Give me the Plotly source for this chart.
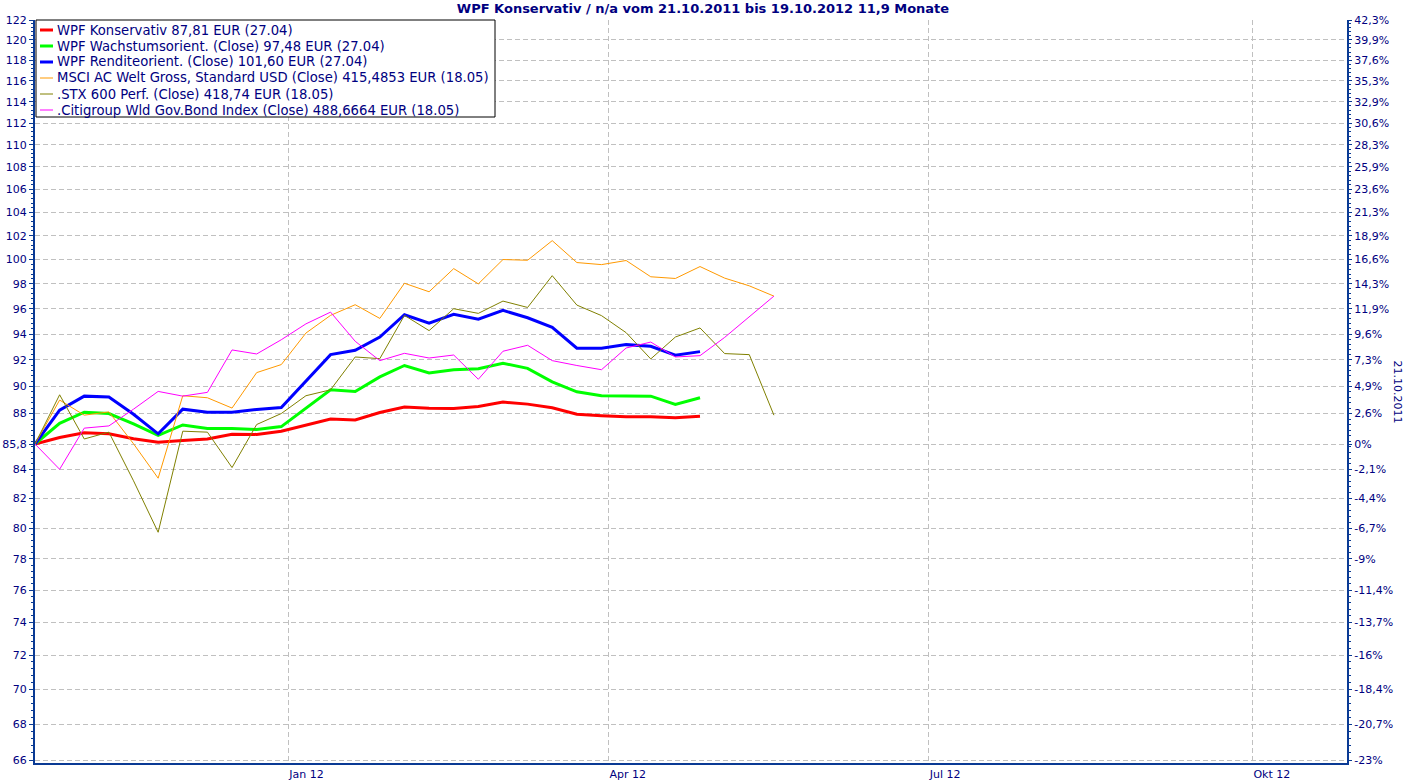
import plotly.graph_objects as go
import numpy as np

# ---------------- data ----------------
dates = ["2011-10-21", "2011-10-28", "2011-11-04", "2011-11-11", "2011-11-18", "2011-11-25",
         "2011-12-02", "2011-12-09", "2011-12-16", "2011-12-23", "2011-12-30", "2012-01-06",
         "2012-01-13", "2012-01-20", "2012-01-27", "2012-02-03", "2012-02-10", "2012-02-17",
         "2012-02-24", "2012-03-02", "2012-03-09", "2012-03-16", "2012-03-23", "2012-03-30",
         "2012-04-06", "2012-04-13", "2012-04-20", "2012-04-27", "2012-05-04", "2012-05-11",
         "2012-05-18"]

wpf_konservativ = [85.8, 86.27, 86.6, 86.53, 86.18, 85.92, 86.06, 86.16, 86.5, 86.49, 86.72, 87.17,
                   87.6, 87.53, 88.07, 88.47, 88.38, 88.37, 88.52, 88.84, 88.69, 88.42, 87.95, 87.84,
                   87.76, 87.76, 87.69, 87.81]
wpf_wachstum = [85.8, 87.29, 88.1, 88.0, 87.24, 86.42, 87.17, 86.91, 86.91, 86.84, 87.05, 88.42,
                89.75, 89.63, 90.72, 91.58, 91.01, 91.26, 91.33, 91.75, 91.36, 90.35, 89.6, 89.31,
                89.28, 89.28, 88.67, 89.16]
wpf_rendite = [85.8, 88.25, 89.28, 89.21, 87.95, 86.53, 88.32, 88.1, 88.1, 88.3, 88.44, 90.42,
               92.41, 92.74, 93.77, 95.52, 94.85, 95.55, 95.17, 95.87, 95.28, 94.53, 92.9, 92.9,
               93.18, 93.05, 92.36, 92.64]
msci = [85.8, 88.99, 87.88, 88.12, 85.82, 83.4, 89.31, 89.16, 88.4, 91.04, 91.65, 94.08, 95.47,
        96.32, 95.23, 98.05, 97.36, 99.25, 98.0, 100.0, 99.94, 101.58, 99.75, 99.58, 99.92, 98.58,
        98.44, 99.42, 98.47, 97.84, 97.01]
stx600 = [85.8, 89.38, 86.16, 86.65, 83.22, 79.74, 86.72, 86.65, 84.14, 87.2, 88.0, 89.31, 89.75,
          92.23, 92.1, 95.47, 94.27, 96.0, 95.63, 96.61, 96.1, 98.67, 96.29, 95.45, 94.11, 92.08,
          93.77, 94.48, 92.49, 92.41, 87.88]
citi = [85.8, 84.02, 86.94, 87.1, 88.32, 89.63, 89.28, 89.56, 92.77, 92.46, 93.56, 94.8, 95.73,
        93.44, 91.95, 92.51, 92.15, 92.38, 90.54, 92.67, 93.13, 91.95, 91.58, 91.26, 92.92, 93.38,
        92.23, 92.33, 93.74, 95.33, 97.01]

series_names = ["WPF Konservativ 87,81 EUR (27.04)",
                "WPF Wachstumsorient. (Close) 97,48 EUR (27.04)",
                "WPF Renditeorient. (Close) 101,60 EUR (27.04)",
                "MSCI AC Welt Gross, Standard USD (Close) 415,4853 EUR (18.05)",
                ".STX 600 Perf. (Close) 418,74 EUR (18.05)",
                ".Citigroup Wld Gov.Bond Index (Close) 488,6664 EUR (18.05)"]

y_tickvals = [66, 68, 70, 72, 74, 76, 78, 80, 82, 84, 85.8, 88, 90, 92, 94, 96, 98, 100, 102, 104,
              106, 108, 110, 112, 114, 116, 118, 120, 122]
y_ticktext = ["66", "68", "70", "72", "74", "76", "78", "80", "82", "84", "85,8", "88", "90", "92",
              "94", "96", "98", "100", "102", "104", "106", "108", "110", "112", "114", "116", "118",
              "120", "122"]
pct_ticktext = ["-23%", "-20,7%", "-18,4%", "-16%", "-13,7%", "-11,4%", "-9%", "-6,7%", "-4,4%",
                "-2,1%", "0%", "2,6%", "4,9%", "7,3%", "9,6%", "11,9%", "14,3%", "16,6%", "18,9%",
                "21,3%", "23,6%", "25,9%", "28,3%", "30,6%", "32,9%", "35,3%", "37,6%", "39,9%",
                "42,3%"]
x_tickvals = ["2012-01-01", "2012-04-01", "2012-07-01", "2012-10-01"]
x_ticktext = ["Jan 12", "Apr 12", "Jul 12", "Okt 12"]

title_text = "WPF Konservativ / n/a vom 21.10.2011 bis 19.10.2012 11,9 Monate"
right_label = "21.10.2011"

# ---------------- style ----------------
colors = ["#ff0000", "#00ff00", "#0000ff", "#ff9900", "#808000", "#ff00ff"]
widths = [3, 3, 3, 1, 1, 1]
NAVY = "#000080"
AXIS = "#0a3a94"
GRID = "#c0c0c0"
FONT = "DejaVu Sans"

W_PX, H_PX = 1406, 781
L, R, T, B = 35, 59, 20, 18
PW = W_PX - L - R
PH = H_PX - T - B


def px2x(px):
    return (px - L) / PW


def py2y(py):
    return (H_PX - B - py) / PH


all_series = [wpf_konservativ, wpf_wachstum, wpf_rendite, msci, stx600, citi]

fig = go.Figure()
for name, vals, c, w in zip(series_names, all_series, colors, widths):
    fig.add_trace(go.Scatter(x=dates[:len(vals)], y=vals, mode="lines", name=name,
                             line=dict(color=c, width=w), showlegend=False))

# invisible trace to anchor the right axis
fig.add_trace(go.Scatter(x=dates[:1], y=wpf_konservativ[:1], yaxis="y2", mode="lines",
                         showlegend=False, hoverinfo="skip", line=dict(width=0)))

yr = [np.log10(65.84), np.log10(122)]
minor_vals = list(np.arange(66, 122.01, 0.4))

fig.update_layout(
    width=W_PX, height=H_PX,
    margin=dict(l=L, r=R, t=T, b=B, autoexpand=False),
    paper_bgcolor="white", plot_bgcolor="white",
    font=dict(family=FONT, size=11, color=NAVY),
    title=dict(text="<b>" + title_text + "</b>", x=0.5, xref="container", xanchor="center",
               y=1 - 8 / H_PX, yref="container", yanchor="middle",
               font=dict(family=FONT, size=13, color=NAVY)),
    xaxis=dict(type="date", range=["2011-10-21", "2012-10-27 21:00"],
               tickmode="array", tickvals=x_tickvals, ticktext=x_ticktext,
               ticklabelposition="outside right",
               showgrid=True, gridcolor=GRID, griddash="5px,3px", gridwidth=1,
               showline=True, linecolor=AXIS, linewidth=2, ticks="",
               tickfont=dict(family=FONT, size=11, color=NAVY), zeroline=False,
               automargin=False),
    yaxis=dict(type="log", range=yr, tickmode="array", tickvals=y_tickvals, ticktext=y_ticktext,
               showgrid=True, gridcolor=GRID, griddash="5px,3px", gridwidth=1,
               showline=True, linecolor=AXIS, linewidth=2, ticks="outside", ticklen=4,
               tickcolor=AXIS, tickwidth=1,
               minor=dict(tickmode="array", tickvals=minor_vals, ticks="outside", ticklen=2,
                          tickcolor=AXIS, showgrid=False),
               tickfont=dict(family=FONT, size=11, color=NAVY), zeroline=False,
               automargin=False),
    yaxis2=dict(type="log", range=yr, overlaying="y", side="right", tickmode="array",
                tickvals=y_tickvals, ticktext=pct_ticktext, showgrid=False,
                showline=True, linecolor=AXIS, linewidth=2, ticks="outside", ticklen=3,
                tickcolor=AXIS, tickwidth=1, ticklabelstandoff=0,
                minor=dict(tickmode="array", tickvals=minor_vals, ticks="outside", ticklen=2,
                           tickcolor=AXIS, showgrid=False),
                tickfont=dict(family=FONT, size=11, color=NAVY), zeroline=False,
                automargin=False),
)

# right-side rotated label
fig.add_annotation(text=right_label, xref="paper", yref="paper", x=px2x(1397), y=0.5,
                   textangle=90, showarrow=False, xanchor="center", yanchor="middle",
                   font=dict(family=FONT, size=11, color=NAVY))

# legend box (drawn manually to match compact layout)
shapes = [dict(type="rect", xref="paper", yref="paper", x0=px2x(36), x1=px2x(495),
               y0=py2y(117), y1=py2y(20), line=dict(color="black", width=1),
               fillcolor="white", layer="above")]
row_y = [30, 46, 62, 78, 94, 110]
for name, c, w, ry in zip(series_names, colors, widths, row_y):
    shapes.append(dict(type="line", xref="paper", yref="paper", x0=px2x(40), x1=px2x(53),
                       y0=py2y(ry), y1=py2y(ry), line=dict(color=c, width=w), layer="above"))
    fig.add_annotation(text=name, xref="paper", yref="paper", x=px2x(55), y=py2y(ry),
                       xanchor="left", yanchor="middle", showarrow=False,
                       font=dict(family=FONT, size=13.2, color=NAVY))
fig.update_layout(shapes=shapes)

fig.write_html("out.html", config={"displayModeBar": False},
               post_script="document.body.style.margin='0';document.body.style.padding='0';")
